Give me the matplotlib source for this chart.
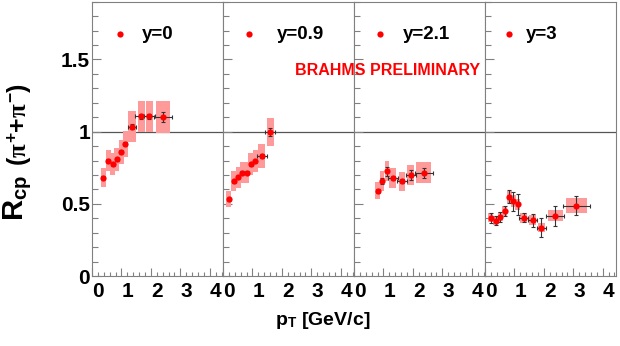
import matplotlib
matplotlib.use("Agg")
import matplotlib.pyplot as plt
from matplotlib.ticker import MultipleLocator
from matplotlib.transforms import ScaledTranslation

plt.rcParams['font.family'] = ['Liberation Sans', 'DejaVu Sans']
plt.rcParams['font.weight'] = 'bold'
plt.rcParams['mathtext.fontset'] = 'custom'
plt.rcParams['mathtext.rm'] = 'Liberation Sans:bold'
plt.rcParams['mathtext.bf'] = 'Liberation Sans:bold'
plt.rcParams['mathtext.sf'] = 'Liberation Sans:bold'
plt.rcParams['mathtext.it'] = 'Liberation Serif'
plt.rcParams['mathtext.default'] = 'it'

# rapidity bins
rapidity = ["y=0", "y=0.9", "y=2.1", "y=3"]

# y = 0
pt0 = [0.38, 0.55, 0.70, 0.84, 0.99, 1.13, 1.36, 1.67, 1.95, 2.41]
r0 = [0.68, 0.80, 0.775, 0.81, 0.86, 0.915, 1.035, 1.105, 1.105, 1.10]
stat0 = [0.01, 0.01, 0.01, 0.01, 0.01, 0.01, 0.015, 0.015, 0.02, 0.035]
xe0 = [0, 0, 0, 0, 0, 0, 0.14, 0.2, 0.2, 0.31]
sys0 = [0.065, 0.07, 0.075, 0.08, 0.085, 0.09, 0.105, 0.11, 0.11, 0.11]
sw0 = [0.16, 0.16, 0.16, 0.16, 0.16, 0.16, 0.25, 0.23, 0.24, 0.46]

# y = 0.9
pt1 = [0.19, 0.36, 0.51, 0.66, 0.80, 0.94, 1.10, 1.31, 1.61]
r1 = [0.532, 0.657, 0.683, 0.714, 0.717, 0.775, 0.795, 0.83, 0.998]
stat1 = [0.01, 0.01, 0.01, 0.01, 0.01, 0.01, 0.01, 0.015, 0.03]
xe1 = [0, 0, 0, 0, 0, 0, 0, 0.17, 0.17]
sys1 = [0.055, 0.068, 0.07, 0.073, 0.073, 0.075, 0.077, 0.085, 0.1]
sw1 = [0.17, 0.17, 0.17, 0.17, 0.17, 0.17, 0.17, 0.23, 0.24]

# y = 2.1
pt2 = [0.81, 0.95, 1.12, 1.32, 1.63, 1.92, 2.37]
r2 = [0.59, 0.657, 0.726, 0.68, 0.657, 0.70, 0.715]
stat2 = [0.015, 0.02, 0.03, 0.015, 0.015, 0.035, 0.035]
xe2 = [0, 0, 0, 0.17, 0.17, 0.17, 0.3]
sys2 = [0.06, 0.068, 0.07, 0.067, 0.066, 0.07, 0.074]
sw2 = [0.16, 0.16, 0.16, 0.23, 0.23, 0.23, 0.5]

# y = 3
pt3 = [0.20, 0.37, 0.52, 0.67, 0.82, 0.96, 1.12, 1.31, 1.62, 1.92, 2.38, 3.10]
r3 = [0.403, 0.383, 0.41, 0.45, 0.549, 0.519, 0.496, 0.403, 0.387, 0.334, 0.417, 0.486]
stat3 = [0.035, 0.03, 0.035, 0.035, 0.046, 0.066, 0.07, 0.03, 0.045, 0.065, 0.068, 0.066]
xe3 = [0, 0, 0, 0, 0, 0, 0, 0.16, 0.16, 0.16, 0.3, 0.46]
sys3 = [0.032, 0.03, 0.032, 0.035, 0.043, 0.04, 0.04, 0.035, 0.035, 0.03, 0.038, 0.052]
sw3 = [0.17, 0.17, 0.17, 0.17, 0.17, 0.17, 0.17, 0.22, 0.22, 0.22, 0.51, 0.7]

panels = [
    (pt0, r0, stat0, xe0, sys0, sw0),
    (pt1, r1, stat1, xe1, sys1, sw1),
    (pt2, r2, stat2, xe2, sys2, sw2),
    (pt3, r3, stat3, xe3, sys3, sw3),
]
# legend positions (axes fraction): marker x, text x
leg_pos = [(0.214, 0.38), (0.20, 0.41), (0.20, 0.37), (0.18, 0.31)]

fig, axes = plt.subplots(1, 4, sharey=True, figsize=(6.2, 3.46), dpi=100)
fig.subplots_adjust(left=0.1484, right=0.9935, bottom=0.2023, top=0.995, wspace=0)

frame_col = '#808080'
shift = ScaledTranslation(0.06, 0, fig.dpi_scale_trans)

for i, ax in enumerate(axes):
    pt, r, st, xe, sy, sw = panels[i]
    bottoms = [v - s for v, s in zip(r, sy)]
    heights = [2 * s for s in sy]
    ax.bar(pt, heights, width=sw, bottom=bottoms, color='#ff9a9a', lw=0, zorder=2)
    ax.errorbar(pt, r, xerr=xe, yerr=st, fmt='none', ecolor='#333333',
                elinewidth=0.8, capsize=1.5, capthick=0.8, zorder=3)
    ax.plot(pt, r, 'o', color='red', markersize=4.5, mec='none', zorder=4)
    ax.axhline(1, color='#555555', lw=0.9, zorder=1)

    ax.set_xlim(0, 4.45)
    ax.set_ylim(0, 1.9)
    ax.xaxis.set_major_locator(MultipleLocator(1))
    ax.xaxis.set_minor_locator(MultipleLocator(0.2))
    ax.yaxis.set_major_locator(MultipleLocator(0.5))
    ax.yaxis.set_minor_locator(MultipleLocator(0.1))
    ax.tick_params(which='both', direction='in', color=frame_col, width=0.8,
                   labelsize=15)
    ax.tick_params(axis='x', which='major', length=5.5, pad=4)
    ax.tick_params(axis='x', which='minor', length=3)
    ax.tick_params(axis='y', which='major', length=6.5, pad=1.5)
    ax.tick_params(axis='y', which='minor', length=4)
    ax.set_yticks([0, 0.5, 1, 1.5])
    ax.set_yticklabels(['0', '0.5', '1', '1.5'])
    for lab in ax.get_xticklabels():
        lab.set_transform(lab.get_transform() + shift)
        lab.set_fontweight('bold')
    for lab in ax.get_yticklabels():
        lab.set_fontweight('bold')
    for sp in ax.spines.values():
        sp.set_color(frame_col)
        sp.set_linewidth(0.8)

    mx, tx = leg_pos[i]
    ax.plot([mx], [1.674], 'o', color='red', markersize=4.5, mec='none',
            transform=ax.get_yaxis_transform())
    ax.text(tx, 1.674, rapidity[i], transform=ax.get_yaxis_transform(),
            fontsize=13.5, fontweight='bold', ha='left', va='center')

fig.text(0.625, 0.795, 'BRAHMS PRELIMINARY', color='red', fontsize=11.5,
         fontweight='bold', ha='center', va='center')

fig.text(0.52, 0.075, r'p$_{\mathbf{T}}$ [GeV/c]', fontsize=14,
         fontweight='bold', ha='center', va='center')

fig.text(0.027, 0.362, r'R$_{\mathbf{cp}}$', fontsize=21, fontweight='bold',
         rotation=90, ha='center', va='bottom')
fig.text(0.03, 0.52, r'($\pi^{\mathbf{+}}$+$\pi^{\mathbf{-}}$)', fontsize=18,
         fontweight='bold', rotation=90, ha='center', va='bottom')

fig.savefig('out.png', dpi=100)
